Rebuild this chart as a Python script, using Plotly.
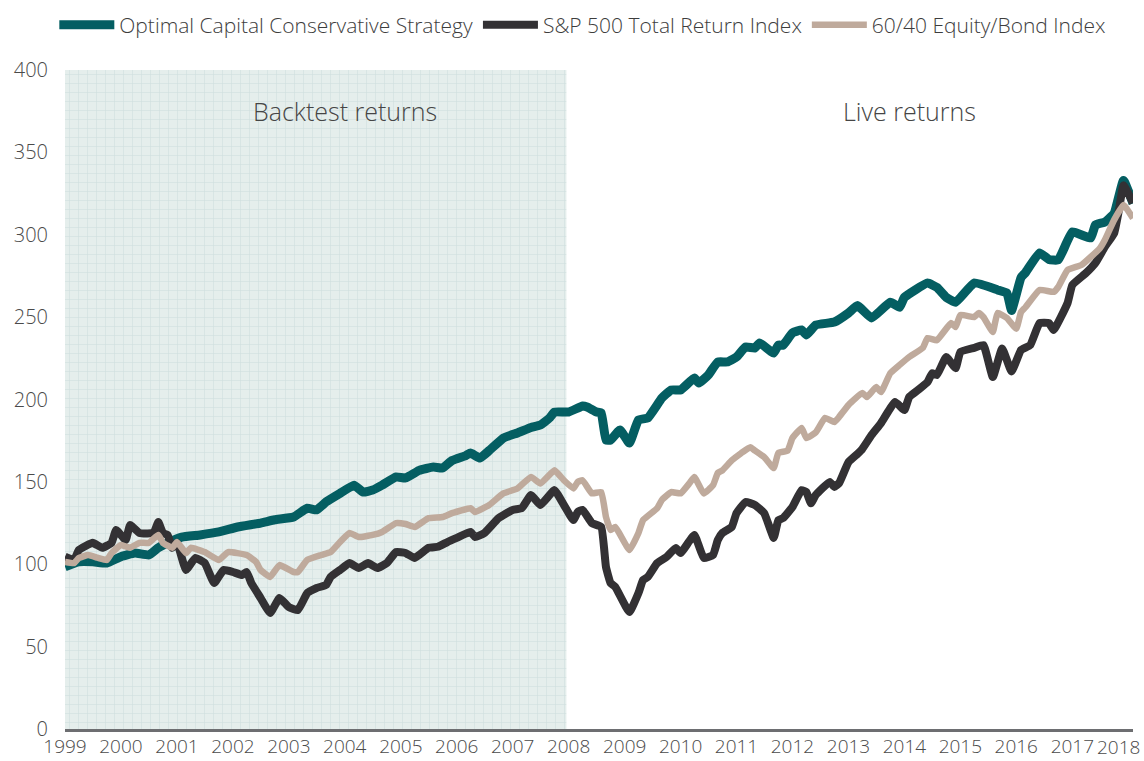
import plotly.graph_objects as go

# ---------------- data ----------------
ocs_dates = ["1999-01","1999-04","1999-07","1999-10","2000-01","2000-04","2000-07","2000-09","2000-11",
             "2001-02","2001-06","2001-10","2002-02","2002-07","2002-10","2003-02","2003-05","2003-07",
             "2003-09","2003-12","2004-03","2004-05","2004-07","2004-09","2004-12","2005-02","2005-05",
             "2005-08","2005-10","2005-12","2006-03","2006-04","2006-06","2006-08","2006-11","2007-02",
             "2007-05","2007-07","2007-09","2007-10","2008-01","2008-04","2008-05","2008-07","2008-08",
             "2008-09","2008-10","2008-12","2009-02","2009-04","2009-06","2009-09","2009-11","2010-01",
             "2010-04","2010-05","2010-07","2010-09","2010-11","2011-01","2011-03","2011-05","2011-06",
             "2011-09","2011-10","2011-11","2012-01","2012-03","2012-04","2012-06","2012-10","2013-01",
             "2013-03","2013-06","2013-10","2013-12","2014-01","2014-06","2014-08","2014-10","2014-12",
             "2015-04","2015-09","2015-11","2015-12","2016-02","2016-03","2016-06","2016-08","2016-10",
             "2017-01","2017-05","2017-06","2017-08","2017-10","2017-12","2018-02"]
ocs_values = [98.5,101.5,101.5,100.7,104.6,106.8,105.6,110,113,
              116.5,117.8,119.6,122.6,125,127,128.7,134,133,
              137.8,143,148,143.8,145,148,153,152.4,157,
              159,158.4,163,166,167.5,164.5,169,176.6,179.7,
              183,184.5,189,192.4,192.4,196,195.4,192.4,191.8,
              175.4,175.4,181.5,173.6,187.6,188.8,200.9,205.8,205.8,
              213,210,214.9,222.8,222.8,225.8,231.9,231.3,234.3,
              228.2,233,233,240.4,242.2,239.2,245.2,247,252.5,
              257,249.5,259,256,262,270.7,268,262,259,
              270.7,266.5,264.6,254,274,277,289,285,284.7,
              301.7,298,306,307.7,313,333,319]

spx_dates = ["1999-01","1999-03","1999-04","1999-07","1999-09","1999-11","1999-12","2000-02","2000-03",
             "2000-05","2000-08","2000-09","2000-10","2000-11","2000-12","2001-01","2001-03","2001-05",
             "2001-07","2001-09","2001-11","2002-01","2002-03","2002-04","2002-05","2002-07","2002-09",
             "2002-11","2003-01","2003-03","2003-05","2003-07","2003-09","2003-10","2003-12","2004-02",
             "2004-04","2004-06","2004-08","2004-10","2004-12","2005-02","2005-04","2005-07","2005-09",
             "2005-11","2006-01","2006-04","2006-05","2006-07","2006-10","2007-01","2007-03","2007-05",
             "2007-07","2007-10","2007-12","2008-02","2008-03","2008-04","2008-06","2008-08","2008-09",
             "2008-10","2008-11","2009-02","2009-04","2009-05","2009-06","2009-08","2009-10","2009-12",
             "2010-01","2010-04","2010-06","2010-08","2010-09","2010-10","2010-12","2011-01","2011-03",
             "2011-05","2011-07","2011-09","2011-10","2011-11","2012-01","2012-03","2012-04","2012-05",
             "2012-06","2012-09","2012-10","2012-11","2013-01","2013-03","2013-04","2013-06","2013-08",
             "2013-11","2014-01","2014-02","2014-04","2014-06","2014-07","2014-08","2014-10","2014-12",
             "2015-01","2015-04","2015-06","2015-08","2015-10","2015-12","2016-02","2016-04","2016-06",
             "2016-08","2016-09","2016-12","2017-01","2017-04","2017-06","2017-08","2017-10","2017-11",
             "2017-12","2018-02"]
spx_values = [104.6,102.6,108.6,113,110,113,120.8,114.7,123.8,
              119,119,125.6,119,117.8,110,113,96.5,103.8,
              100.7,88.6,96.5,95.3,93.5,95.3,88.6,79.5,70.4,
              79.5,74,72.2,82.5,85.6,87.4,92.3,96.5,100.7,
              97.7,100.7,97.7,100.7,107.4,106.8,103.8,110,110.6,
              113.5,116,119.6,116.5,119,128,133,134,142,
              136,145,136,126.8,131.7,133,125,122.6,98.3,
              88.6,86.2,71,82.5,90.4,92.3,100.7,104.4,109.9,
              106.8,117.8,103.8,105.6,114.7,119,122.6,131,137.8,
              136,131,116,126.8,128,134.7,145,143.8,137,
              142,150,146.9,149.3,162,167,170,178.5,185.7,
              198.5,193.6,201.5,205.8,210.6,216,214.9,225.8,219,
              228.8,231.3,233,213.6,231,217,230,233,246.4,
              246.4,242.2,258.6,269.5,276.8,282.9,292.6,301,315,
              330,319.3]

bal_dates = ["1999-01","1999-03","1999-04","1999-06","1999-08","1999-10","1999-11","2000-01","2000-03",
             "2000-05","2000-07","2000-09","2000-10","2000-12","2001-01","2001-03","2001-04","2001-07",
             "2001-10","2001-12","2002-04","2002-06","2002-07","2002-09","2002-11","2003-02","2003-03",
             "2003-05","2003-08","2003-10","2003-12","2004-02","2004-04","2004-07","2004-09","2004-12",
             "2005-02","2005-04","2005-07","2005-10","2005-12","2006-04","2006-05","2006-08","2006-11",
             "2007-02","2007-05","2007-07","2007-10","2007-12","2008-02","2008-03","2008-04","2008-06",
             "2008-08","2008-09","2008-10","2008-11","2009-02","2009-04","2009-05","2009-08","2009-09",
             "2009-11","2010-01","2010-03","2010-04","2010-06","2010-08","2010-09","2010-10","2010-12",
             "2011-02","2011-04","2011-05","2011-07","2011-09","2011-10","2011-12","2012-01","2012-03",
             "2012-04","2012-06","2012-08","2012-10","2012-11","2013-01","2013-04","2013-05","2013-07",
             "2013-08","2013-10","2013-12","2014-02","2014-05","2014-06","2014-08","2014-11","2014-12",
             "2015-01","2015-04","2015-05","2015-06","2015-08","2015-09","2015-11","2016-01","2016-02",
             "2016-03","2016-06","2016-09","2016-10","2016-12","2017-03","2017-05","2017-07","2017-08",
             "2017-10","2017-12","2018-02"]
bal_values = [101.4,100.7,103.8,105.6,104,102.6,106.8,111.7,110,
              113,113,117.8,113,110,113.5,106.8,110,107.4,
              102.6,107.4,105.6,101.4,96.5,92.3,99.5,95.3,95.3,
              102.6,105.6,107.4,113.5,119,116.5,117.8,119.6,125,
              124.4,122.6,128,128.7,131,134,131.7,136,143,
              146,153,149,157,151,146,150,151,143,
              143.8,128.7,120.8,122.6,108.6,119,126.8,134,139,
              143.8,143,149.3,153,143,148,155.4,157,163,
              167.5,171,169,165,158.4,167.5,169,176.6,182.7,
              176.6,180,188.8,186.3,189.4,196.7,204,201.5,207.6,
              204.5,216,221,225.8,231.3,237.3,236,246.4,244,
              251.3,250,252.5,250,241,252.5,249.5,243,253,
              256,266.5,265.3,268.3,278.6,281.6,286.5,292,296.8,
              309,318,310]

series_names = ["Optimal Capital Conservative Strategy", "S&P 500 Total Return Index", "60/40 Equity/Bond Index"]
year_ticks = [str(y) for y in range(1999, 2019)]
y_ticks = [0, 50, 100, 150, 200, 250, 300, 350, 400]
backtest_start = "1999-01"
backtest_end = "2007-12-18"
x_end = "2018-02"
region_labels = ["Backtest returns", "Live returns"]
region_label_x = ["2004-01", "2014-02"]
region_label_y = 375

# ---------------- styles ----------------
FONT = "Open Sans"
colors = ["#045e62", "#333134", "#bfaa9c"]
widths = [9, 8, 6.5]
xtick_font = dict(family=FONT, size=19, color="#4a4a4a", weight=300)
ytick_font = dict(family=FONT, size=20, color="#4a4a4a", weight=300)

fig = go.Figure()

# shaded backtest region (patterned fill)
fig.add_trace(go.Scatter(
    x=[backtest_start, backtest_end, backtest_end, backtest_start],
    y=[y_ticks[0], y_ticks[0], y_ticks[-1], y_ticks[-1]],
    fill="toself", mode="none", showlegend=False, hoverinfo="skip",
    fillcolor="#e5eeec",
    fillpattern=dict(shape="+", fgcolor="#cfdfdc", bgcolor="#e5eeec", size=9, solidity=0.12, fgopacity=1),
))

for name, xs, ys, c, w in zip(series_names, [ocs_dates, spx_dates, bal_dates],
                              [ocs_values, spx_values, bal_values], colors, widths):
    fig.add_trace(go.Scatter(
        x=xs, y=ys, name=name, mode="lines",
        line=dict(color=c, width=w, shape="spline", smoothing=0.35),
    ))

for txt, lx in zip(region_labels, region_label_x):
    fig.add_annotation(x=lx, y=region_label_y, text=txt, showarrow=False,
                       font=dict(family=FONT, size=25, color="#454545", weight=300))

# last year label kept inside the page (right-aligned at its tick)
fig.add_annotation(x=f"{year_ticks[-1]}-01-01", y=0, yref="paper", xanchor="right", yanchor="middle",
                   xshift=14, yshift=-18, text=year_ticks[-1], showarrow=False, font=xtick_font)

fig.update_layout(
    width=1144, height=761,
    margin=dict(l=65, r=11, t=70, b=32, autoexpand=False),
    paper_bgcolor="white", plot_bgcolor="white",
    font=dict(family=FONT, color="#4a4a4a"),
    showlegend=True,
    legend=dict(orientation="h", x=-0.01, xanchor="left", y=1.068, yanchor="middle",
                font=dict(family=FONT, size=21, color="#3d3d3d", weight=300),
                itemwidth=55, traceorder="normal", bgcolor="rgba(0,0,0,0)"),
    xaxis=dict(range=[backtest_start, x_end], showgrid=False, zeroline=False,
               tickmode="array", tickvals=[f"{y}-01-01" for y in year_ticks[:-1]], ticktext=year_ticks[:-1],
               tickfont=xtick_font, ticklabelstandoff=-2,
               showline=True, linecolor="#6d6e71", linewidth=3, ticks="", ticklen=0),
    yaxis=dict(range=[y_ticks[0], y_ticks[-1]], showgrid=False, zeroline=False,
               tickmode="array", tickvals=y_ticks,
               tickfont=ytick_font,
               showline=False, ticks="", ticklabelstandoff=16),
)

fig.write_html("out.html", config={"displayModeBar": False},
               post_script="document.body.style.margin='0px';")
